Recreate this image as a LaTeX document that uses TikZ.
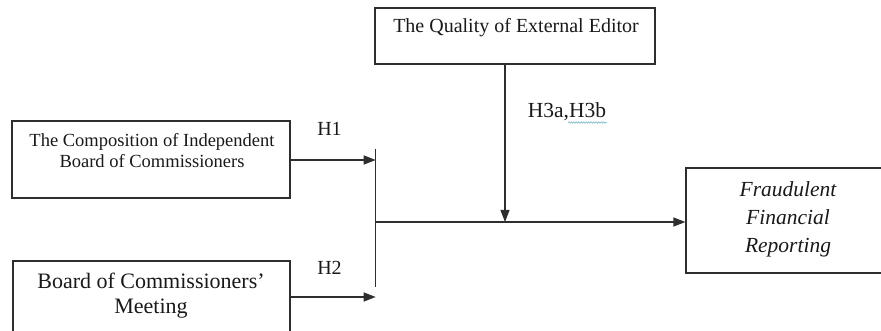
\documentclass[tikz,border=0pt]{standalone}
\usepackage{fontspec}
\setmainfont{Liberation Serif}
\usetikzlibrary{arrows.meta,decorations.pathmorphing}
\definecolor{ink}{HTML}{2E2E2E}
\tikzset{
  box/.style={draw=ink, line width=1.2pt, inner sep=0pt},
  conn/.style={draw=ink, line width=1.2pt},
  arr/.style={conn, -{Triangle[length=12pt,width=9pt]}},
  lbl/.style={inner sep=0pt, anchor=base, text=black!90},
}
\begin{document}
\begin{tikzpicture}[x=1pt,y=-1pt]
\useasboundingbox (0,0) rectangle (881,331);
\begin{scope}
\clip (0,0) rectangle (881,331);
% boxes
\node[box, minimum width=278pt, minimum height=77pt] (b1) at (151,159.5) {};
\node[box, minimum width=277pt, minimum height=80pt] (b2) at (151.5,301) {};
\node[box, minimum width=280pt, minimum height=56pt] (b3) at (515,36) {};
\node[box, minimum width=210pt, minimum height=105pt] (b4) at (791,220.5) {};
\end{scope}
% texts
\node[lbl, font=\fontsize{18.5}{21}\selectfont] (t1a) at (152,147) {The Composition of Independent};
\node[lbl, font=\fontsize{18.5}{21}\selectfont] (t1b) at (152,168) {Board of Commissioners};
\node[lbl, font=\fontsize{22}{25}\selectfont] (t2a) at (151,288) {Board of Commissioners’};
\node[lbl, font=\fontsize{22}{25}\selectfont] (t2b) at (151,313) {Meeting};
\node[lbl, font=\fontsize{20}{21}\selectfont] (t3) at (516,33) {The Quality of External Editor};
\node[lbl, font=\fontsize{21.5}{28}\selectfont\itshape] (t4a) at (788,197) {Fraudulent};
\node[lbl, font=\fontsize{21.5}{28}\selectfont\itshape] (t4b) at (788,225) {Financial};
\node[lbl, font=\fontsize{21.5}{28}\selectfont\itshape] (t4c) at (788,252) {Reporting};
% labels
\node[lbl, font=\fontsize{20}{21}\selectfont] (h1) at (329.5,136) {H1};
\node[lbl, font=\fontsize{20}{21}\selectfont] (h2) at (329.5,274) {H2};
\node[lbl, font=\fontsize{21.5}{21}\selectfont] (h3) at (567,118) {H3a,H3b};
% connectors
\coordinate (vt) at (375.7,149);
\coordinate (vb) at (375.7,287);
\coordinate (j) at (375.7,222);
\coordinate (m) at (505,222);
\coordinate (a1) at (375.7,160);
\coordinate (a2) at (375.7,297);
\draw[conn] (vt) -- (vb);
\draw[arr] (b1.east |- a1) -- (a1);
\draw[arr] (b2.east |- a2) -- (a2);
\draw[arr] (j) -- (j -| b4.west);
\draw[arr] (b3.south -| m) -- (m);
% spell-check squiggle
\coordinate (s1) at (568,122.5);
\coordinate (s2) at (607,122.5);
\draw[green!45!blue!60, line width=0.5pt, decorate, decoration={snake, amplitude=0.7pt, segment length=2.5pt}] (s1) -- (s2);
\end{tikzpicture}
\end{document}
